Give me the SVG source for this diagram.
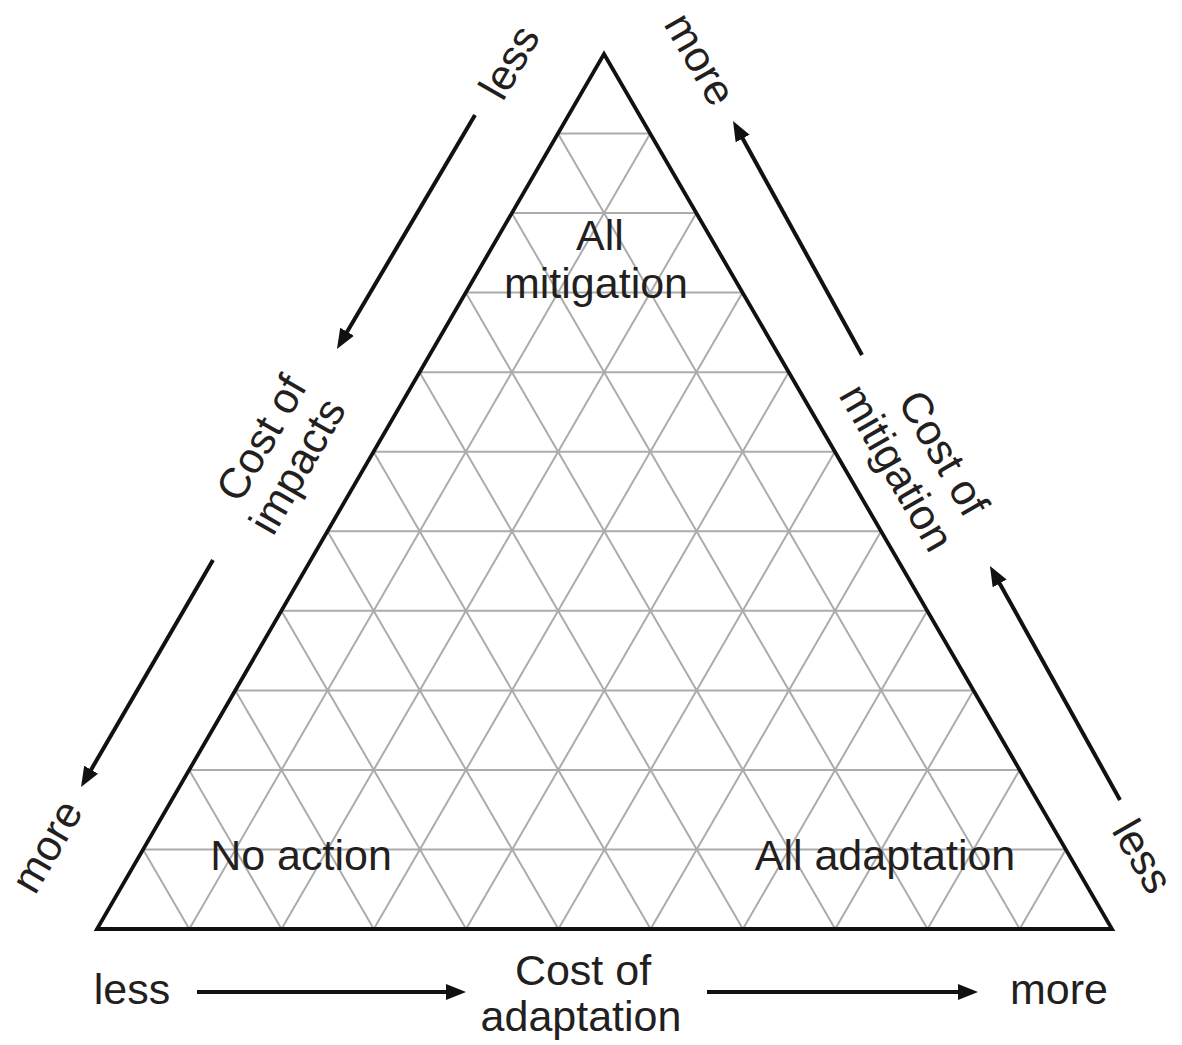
<svg xmlns="http://www.w3.org/2000/svg" width="1182" height="1045" viewBox="0 0 1182 1045">
<style>
  .t { font-family: "Liberation Sans", Arial, sans-serif; font-size: 43px; fill: #231f20; text-anchor: middle; }
  .grid { fill: none; stroke: #acacac; stroke-width: 2; }
  .outline { fill: none; stroke: #111; stroke-width: 3.8; stroke-linejoin: miter; }
  .arrow { fill: none; stroke: #111; stroke-width: 4; marker-end: url(#head); }
</style>
<defs>
  <marker id="head" viewBox="0 0 20 16" refX="2" refY="8" markerWidth="20" markerHeight="16" markerUnits="userSpaceOnUse" orient="auto">
    <path d="M0,0 L20,8 L0,16 z" fill="#111"/>
  </marker>
</defs>
<rect width="1182" height="1045" fill="#fff"/>
<g id="grid">
  <path class="grid" d="M143.1 849.5H1065.8 M189.2 769.9H1019.6 M235.3 690.4H973.5 M281.4 610.8H927.3 M327.5 531.3H881.1 M373.5 451.7H834.9 M419.6 372.2H788.7 M465.7 292.6H742.5 M511.8 213.1H696.4 M557.9 133.5H650.2
  M189.3 929L650.2 133.5 M281.5 929L696.4 213.1 M373.8 929L742.5 292.6 M466.1 929L788.7 372.2 M558.4 929L834.9 451.7 M650.6 929L881.1 531.3 M742.9 929L927.3 610.8 M835.2 929L973.5 690.4 M927.5 929L1019.6 769.9 M1019.7 929L1065.8 849.5
  M189.3 929L143.1 849.5 M281.5 929L189.2 769.9 M373.8 929L235.3 690.4 M466.1 929L281.4 610.8 M558.4 929L327.5 531.3 M650.6 929L373.5 451.7 M742.9 929L419.6 372.2 M835.2 929L465.7 292.6 M927.5 929L511.8 213.1 M1019.7 929L557.9 133.5"/>
</g>
<g id="triangle">
  <path class="outline" d="M604 54 L1112 929 L97 929 Z"/>
</g>
<g id="node-all-mitigation">
  <text class="t" x="600" y="250">All</text>
  <text class="t" x="596" y="298">mitigation</text>
</g>
<g id="node-no-action">
  <text class="t" x="301" y="870">No action</text>
</g>
<g id="node-all-adaptation">
  <text class="t" x="885" y="870">All adaptation</text>
</g>
<g id="axis-impacts">
  <text class="t" transform="translate(509,62) rotate(-60)" y="15">less</text>
  <g transform="translate(261,438) rotate(-60)">
    <text class="t" x="0" y="15">Cost of</text>
    <text class="t" x="-6" y="60">impacts</text>
  </g>
  <text class="t" transform="translate(50,848) rotate(-60)" y="11">more</text>
</g>
<g id="axis-mitigation">
  <text class="t" transform="translate(697,61) rotate(60)" y="11">more</text>
  <g transform="translate(944,453) rotate(60)">
    <text class="t" x="0" y="15">Cost of</text>
    <text class="t" x="-11" y="63">mitigation</text>
  </g>
  <text class="t" transform="translate(1143,856) rotate(60)" y="15">less</text>
</g>
<g id="axis-adaptation">
  <text class="t" x="132" y="1004">less</text>
  <text class="t" x="583" y="985">Cost of</text>
  <text class="t" x="581" y="1031">adaptation</text>
  <text class="t" x="1059" y="1004">more</text>
</g>
<g id="connectors">
  <line class="arrow" x1="475" y1="115" x2="346.1" y2="333.5"/>
  <line class="arrow" x1="213" y1="560" x2="90.1" y2="771.4"/>
  <line class="arrow" x1="862" y1="355" x2="741.7" y2="136.8"/>
  <line class="arrow" x1="1120" y1="800" x2="998.7" y2="581.7"/>
  <line class="arrow" x1="197" y1="992" x2="448" y2="992"/>
  <line class="arrow" x1="707" y1="992" x2="960" y2="992"/>
</g>
</svg>
